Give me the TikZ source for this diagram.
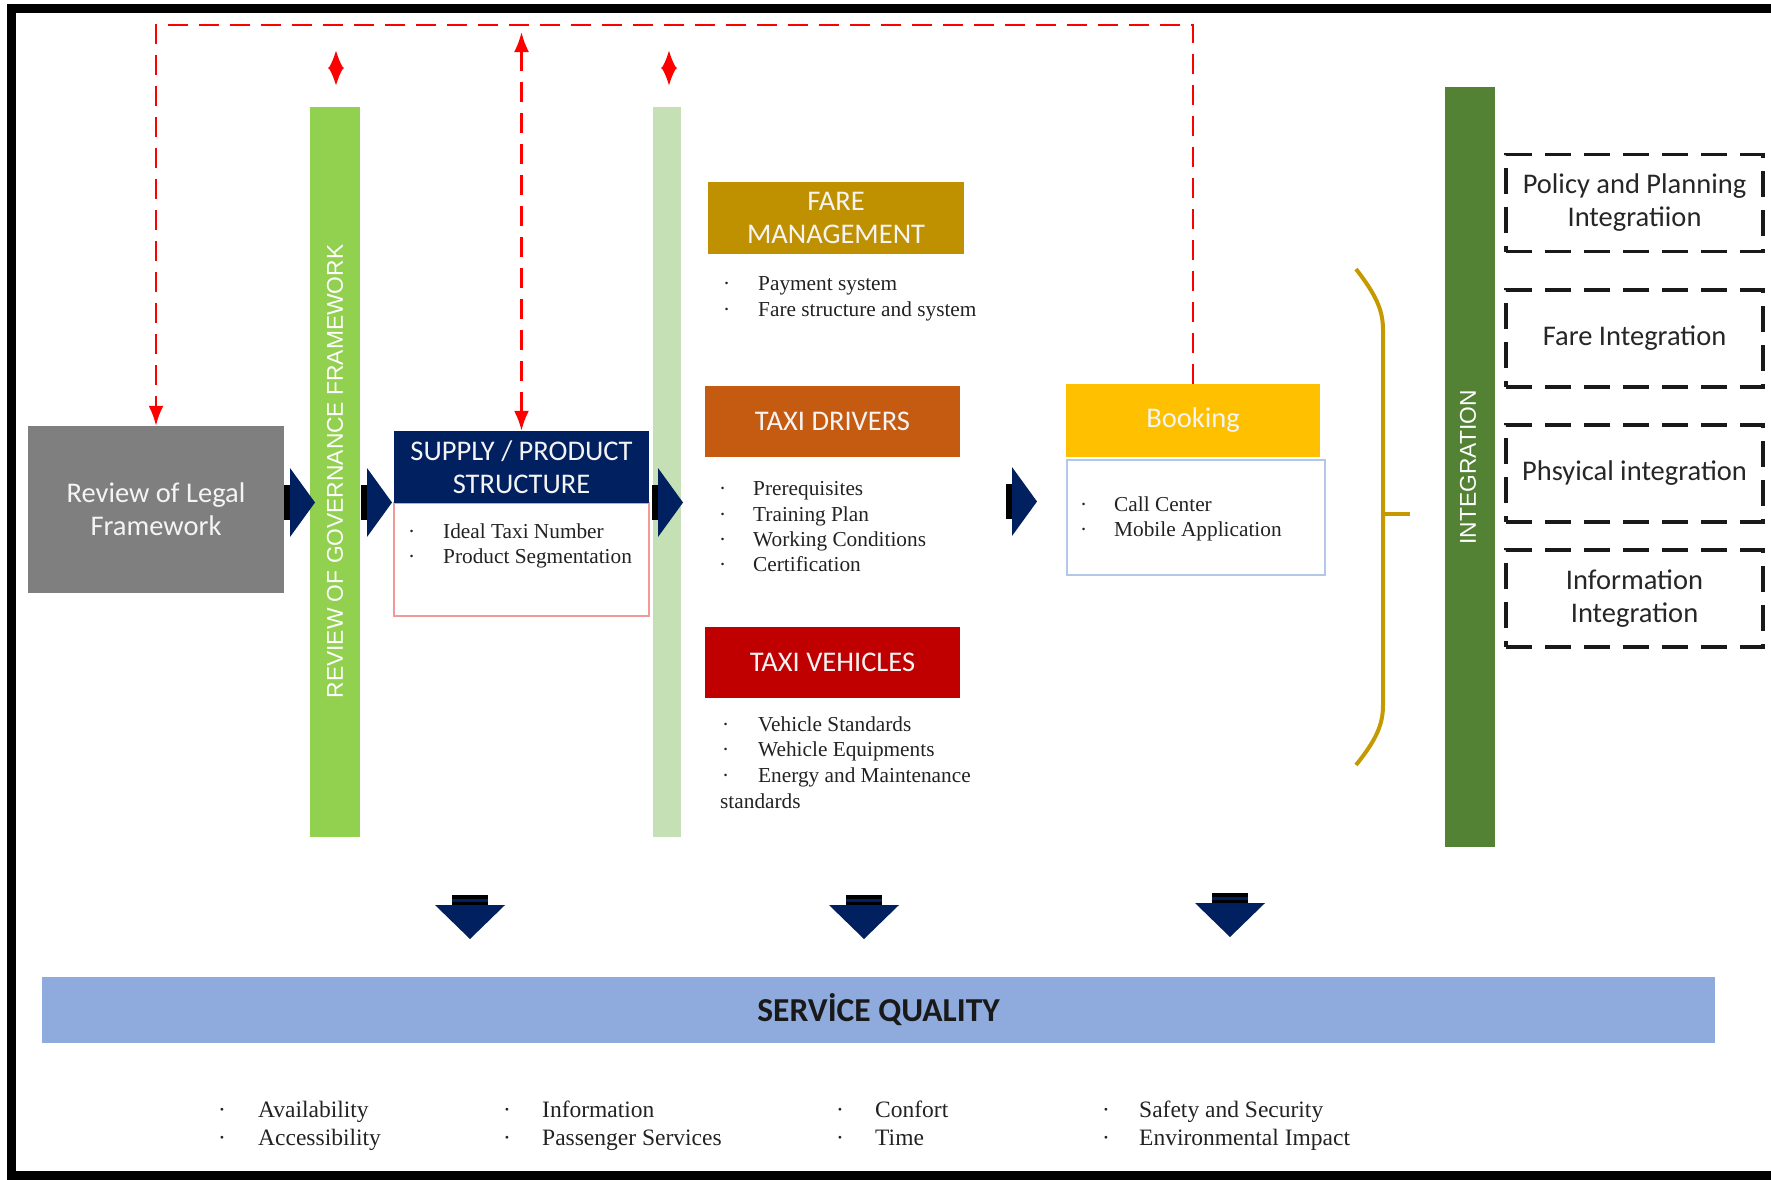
\documentclass[tikz,border=0pt]{standalone}
\usepackage{fontspec}
\setmainfont{Liberation Serif}
\newfontfamily\lblfont{Carlito}
\newfontfamily\vbarfont{Liberation Sans}
\usetikzlibrary{arrows.meta}
\definecolor{navy}{HTML}{002060}
\definecolor{legalgray}{HTML}{7F7F7F}
\definecolor{govgreen}{HTML}{92D050}
\definecolor{lightgreen}{HTML}{C5E0B4}
\definecolor{faregold}{HTML}{BF9000}
\definecolor{driverorange}{HTML}{C55A11}
\definecolor{vehiclered}{HTML}{C00000}
\definecolor{bookingyellow}{HTML}{FFC000}
\definecolor{intgreen}{HTML}{548235}
\definecolor{sqblue}{HTML}{8FAADC}
\definecolor{pinkline}{HTML}{F09A9A}
\definecolor{paleblue}{HTML}{B4C7E7}
\definecolor{bracegold}{HTML}{C49A00}
\definecolor{lbltext}{HTML}{F4F4F4}
\definecolor{listgray}{HTML}{222222}
\tikzset{
  lbl/.style={inner sep=0pt, align=center, text=lbltext, font=\lblfont\fontsize{28.5}{33}\selectfont},
  colbar/.style={inner sep=0pt, draw=none},
  listtxt/.style={anchor=base west, inner sep=0pt, text=listgray, font=\fontsize{21.3}{25}\selectfont},
  bigtxt/.style={anchor=base west, inner sep=0pt, text=listgray, font=\fontsize{23.5}{27}\selectfont},
  reddash/.style={draw=red, line width=2.5pt, dash pattern=on 20pt off 11pt},
  dashbox/.style={draw=black!90, line width=3.5pt, dash pattern=on 26pt off 13pt, inner sep=0pt, align=center, text=black!85, font=\lblfont\fontsize{28.5}{33}\selectfont, minimum width=257, minimum height=97},
  vtext/.style={rotate=90, inner sep=0pt, text=white, font=\vbarfont\fontsize{22.8}{27}\selectfont},
  rchev/.pic={\fill[black] (0,-17.5) rectangle (9,17.5);
              \fill[navy] (6,-34.5) -- (31,0) -- (6,34.5) -- cycle;},
  dchev/.pic={\fill[black] (-18,0) rectangle (18,10);
              \fill[navy] (-18,4) rectangle (18,7);
              \fill[navy] (-35,10) -- (35,10) -- (0,44) -- cycle;}
}
\newcommand{\bitem}[6][listtxt]{%
  \node[#1] (#2d) at (#3,#5) {·};
  \node[#1] (#2) at (#4,#5) {#6};}
\begin{document}
\begin{tikzpicture}[x=1pt,y=-1pt]
\useasboundingbox (0,0) rectangle (1771,1179);
% frame
\draw[line width=9pt] (1771,8.5) -- (11.5,8.5) -- (11.5,1175.5) -- (1771,1175.5);

% boxes
\node[lbl, fill=legalgray, minimum width=256, minimum height=167] (legal) at (156,509.5) {Review of Legal\\Framework};
\node[colbar, fill=govgreen, minimum width=50, minimum height=730] (gov) at (335,472) {};
\node[vtext] (govtext) at (335,471.5) {REVIEW OF GOVERNANCE FRAMEWORK};
\node[colbar, fill=lightgreen, minimum width=28, minimum height=730] (lgbar) at (667,472) {};

\node[inner sep=0pt, draw=pinkline, line width=1.3pt, fill=white, minimum width=255, minimum height=113] (supbody) at (521.5,559.5) {};
\node[lbl, fill=navy, minimum width=255, minimum height=72] (supply) at (521.5,467) {SUPPLY / PRODUCT\\STRUCTURE};

\node[lbl, fill=faregold, minimum width=256, minimum height=72] (fare) at (836,218) {FARE\\MANAGEMENT};
\node[lbl, fill=driverorange, minimum width=255, minimum height=71] (drivers) at (832.5,421.5) {TAXI DRIVERS};
\node[lbl, fill=vehiclered, minimum width=255, minimum height=71] (vehicles) at (832.5,662.5) {TAXI VEHICLES};

\node[inner sep=0pt, draw=paleblue, line width=2pt, minimum width=258, minimum height=115] (bookbody) at (1196,517.5) {};
\node[lbl, fill=bookingyellow, minimum width=254, minimum height=73] (booking) at (1193,420.5) {Booking};

\node[colbar, fill=intgreen, minimum width=50, minimum height=760] (intbar) at (1470,467) {};
\node[vtext] (inttext) at (1468,467.5) {INTEGRATION};

\node[dashbox] (policy) at (1634.5,203) {Policy and Planning\\Integratiion};
\node[dashbox] (fareint) at (1634.5,338.5) {Fare Integration};
\node[dashbox] (phys) at (1634.5,473.5) {Phsyical integration};
\node[dashbox] (info) at (1634.5,598.5) {Information\\Integration};

\node[inner sep=0pt, fill=sqblue, minimum width=1673, minimum height=66, text=black!90, font=\lblfont\bfseries\fontsize{33.5}{37}\selectfont] (sq) at (878.5,1010) {SERVİCE QUALITY};

% lists
\bitem{fl1}{723}{758}{290}{Payment system}
\bitem{fl2}{723}{758}{316}{Fare structure and system}
\bitem{dl1}{719}{753}{495}{Prerequisites}
\bitem{dl2}{719}{753}{521}{Training Plan}
\bitem{dl3}{719}{753}{546}{Working Conditions}
\bitem{dl4}{719}{753}{571}{Certification}
\bitem{vl1}{722}{758}{731}{Vehicle Standards}
\bitem{vl2}{722}{758}{756}{Wehicle Equipments}
\bitem{vl3}{722}{758}{782}{Energy and Maintenance}
\node[listtxt] (vl4) at (720,808) {standards};
\bitem{sl1}{408}{443}{538}{Ideal Taxi Number}
\bitem{sl2}{408}{443}{563}{Product Segmentation}
\bitem{bl1}{1080}{1114}{511}{Call Center}
\bitem{bl2}{1080}{1114}{536}{Mobile Application}

\bitem[bigtxt]{q1}{218}{258}{1117}{Availability}
\bitem[bigtxt]{q2}{218}{258}{1145}{Accessibility}
\bitem[bigtxt]{q3}{503}{542}{1117}{Information}
\bitem[bigtxt]{q4}{503}{542}{1145}{Passenger Services}
\bitem[bigtxt]{q5}{836}{875}{1117}{Confort}
\bitem[bigtxt]{q6}{836}{875}{1145}{Time}
\bitem[bigtxt]{q7}{1102}{1139}{1117}{Safety and Security}
\bitem[bigtxt]{q8}{1102}{1139}{1145}{Environmental Impact}

% block arrows
\pic at (284,502.5) {rchev};
\pic at (361,502.5) {rchev};
\pic at (652,502.5) {rchev};
\pic at (1006,501.5) {rchev};
\pic at (470,895) {dchev};
\pic at (864,895) {dchev};
\pic at (1230,893) {dchev};

% red dashed connectors
\coordinate (topline) at (0,25);
\coordinate (dbltop) at (0,32);
\draw[reddash, -{Latex[length=20pt,width=15pt]}] (booking.north) |- (legal.north |- topline) -- (legal.north);
\draw[reddash, {Latex[length=20pt,width=15pt]}-{Latex[length=20pt,width=15pt]}] (supply.north |- dbltop) -- (supply.north);
\coordinate (ga) at (336,50);
\coordinate (gb) at (336,86);
\coordinate (la) at (669,50);
\coordinate (lb) at (669,86);
\draw[red, line width=3pt, {Latex[length=19pt,width=16pt]}-{Latex[length=19pt,width=16pt]}] (ga) -- (gb);
\draw[red, line width=3pt, {Latex[length=19pt,width=16pt]}-{Latex[length=19pt,width=16pt]}] (la) -- (lb);

% bracket
\coordinate (brtop) at (1356,269);
\coordinate (brbot) at (1356,765);
\coordinate (brmid) at (1383,514);
\coordinate (brtick) at (1410,514);
\draw[bracegold, line width=4pt] (brtop) .. controls (1376,295) and (1383,310) .. (1383,330) -- (1383,705) .. controls (1383,725) and (1376,740) .. (brbot);
\draw[bracegold, line width=4pt] (brmid) -- (brtick);
\end{tikzpicture}
\end{document}
